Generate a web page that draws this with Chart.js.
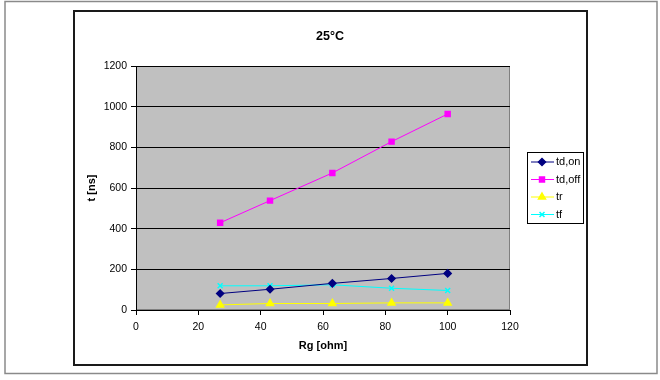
<!DOCTYPE html>
<html>
<head>
<meta charset="utf-8">
<script src="https://cdn.jsdelivr.net/npm/chart.js@4"></script>
<style>
  html, body { margin: 0; padding: 0; background: #fff; }
  #wrap { width: 660px; height: 380px; position: relative; }
</style>
</head>
<body>
<div id="wrap"><canvas id="c" width="660" height="380"></canvas></div>
<script>
const rg = [27, 43, 63, 82, 100];
const tdOn = [81, 102, 131, 155, 180];
const tdOff = [429, 538, 674, 828, 964];
const tr = [25, 32, 32, 35, 35];
const tf = [119, 119, 124, 107, 96];
const seriesNames = ['td,on', 'td,off', 'tr', 'tf'];
const xTicks = [0, 20, 40, 60, 80, 100, 120];
const yTicks = [0, 200, 400, 600, 800, 1000, 1200];

const FONT = "'Liberation Sans', Arial, sans-serif";
const pts = arr => arr.map((v, i) => ({ x: rg[i], y: v }));

const frame = {
  id: 'frame',
  beforeDraw(chart) {
    const ctx = chart.ctx, a = chart.chartArea;
    ctx.save();
    ctx.fillStyle = '#fff';
    ctx.fillRect(0, 0, chart.width, chart.height);
    ctx.strokeStyle = '#8a8a8a';
    ctx.lineWidth = 1.5;
    ctx.strokeRect(5, 1.5, 652, 372);
    ctx.strokeStyle = '#1a1a1a';
    ctx.lineWidth = 2;
    ctx.strokeRect(74, 11, 513, 354);
    ctx.fillStyle = '#c0c0c0';
    ctx.fillRect(a.left, a.top, a.right - a.left, a.bottom - a.top);
    ctx.strokeStyle = '#808080';
    ctx.lineWidth = 1;
    ctx.strokeRect(a.left + 0.5, a.top + 0.5, a.right - a.left - 1, a.bottom - a.top - 1);
    ctx.restore();
  }
};

const legendBox = {
  id: 'legendBox',
  afterDraw(chart) {
    const ctx = chart.ctx;
    const x0 = 527, y0 = 152, w = 57, h = 72;
    ctx.save();
    ctx.fillStyle = '#fff';
    ctx.fillRect(x0, y0, w, h);
    ctx.strokeStyle = '#000';
    ctx.lineWidth = 1;
    ctx.strokeRect(x0 + 0.5, y0 + 0.5, w - 1, h - 1);
    ctx.font = '11px ' + FONT;
    ctx.textBaseline = 'middle';
    chart.data.datasets.forEach((ds, i) => {
      const y = y0 + 10 + i * 17.5;
      ctx.strokeStyle = ds.borderColor;
      ctx.lineWidth = 1;
      ctx.beginPath();
      ctx.moveTo(x0 + 4, y);
      ctx.lineTo(x0 + 27, y);
      ctx.stroke();
      ctx.fillStyle = ds.pointBackgroundColor;
      ctx.strokeStyle = ds.pointBorderColor;
      ctx.lineWidth = 1.5;
      Chart.helpers.drawPoint(ctx, {
        pointStyle: ds.pointStyle, radius: ds.pointRadius, rotation: 0, borderWidth: 1.5
      }, x0 + 15, y);
      ctx.fillStyle = '#000';
      ctx.fillText(ds.label, x0 + 29, y);
    });
    ctx.restore();
  }
};

function mk(label, data, color, style, r) {
  return {
    label, data: pts(data),
    borderColor: color, backgroundColor: color,
    pointBackgroundColor: color, pointBorderColor: color,
    pointStyle: style, pointRadius: r, pointBorderWidth: 1.5,
    borderWidth: 1, tension: 0, showLine: true
  };
}

new Chart(document.getElementById('c'), {
  type: 'line',
  data: {
    datasets: [
      mk(seriesNames[0], tdOn, '#000080', 'rectRot', 3.5),
      mk(seriesNames[1], tdOff, '#ff00ff', 'rect', 3.5),
      mk(seriesNames[2], tr, '#ffff00', 'triangle', 4),
      mk(seriesNames[3], tf, '#00ffff', 'crossRot', 3.5)
    ]
  },
  options: {
    responsive: false,
    animation: false,
    devicePixelRatio: 1,
    layout: { padding: 0 },
    plugins: {
      legend: { display: false },
      tooltip: { enabled: false },
      title: {
        display: true, text: '25°C', color: '#000',
        font: { family: FONT, size: 12.5, weight: 'bold' },
        padding: { top: 29, bottom: 22 }
      }
    },
    scales: {
      x: {
        type: 'linear', min: 0, max: 120,
        afterBuildTicks: s => { s.ticks = xTicks.map(v => ({ value: v })); },
        afterFit: s => { s.height = 70; },
        ticks: { color: '#000', font: { family: FONT, size: 10.5 }, padding: 6, maxRotation: 0,
                 callback: v => String(v) },
        grid: { drawOnChartArea: false, drawTicks: true, tickLength: 5, color: '#000' },
        border: { display: true, color: '#000', width: 1 },
        title: {
          display: true, text: 'Rg [ohm]', color: '#000',
          font: { family: FONT, size: 11, weight: 'bold' },
          padding: { top: 0, bottom: 27 }
        }
      },
      y: {
        type: 'linear', min: 0, max: 1200, position: 'left',
        afterBuildTicks: s => { s.ticks = yTicks.map(v => ({ value: v })); },
        afterFit: s => { s.width = 136; },
        ticks: { color: '#000', font: { family: FONT, size: 10.5 }, padding: 4,
                 callback: v => String(v) },
        grid: { drawOnChartArea: true, drawTicks: true, tickLength: 5, color: '#000', lineWidth: 1 },
        border: { display: true, color: '#000', width: 1 },
        title: {
          display: true, text: 't [ns]', color: '#000',
          font: { family: FONT, size: 11, weight: 'bold' },
          padding: { top: 85, bottom: 0 }
        }
      },
      y2: {
        type: 'linear', position: 'right', display: true,
        afterFit: s => { s.width = 150; },
        ticks: { display: false },
        grid: { display: false },
        border: { display: false }
      }
    }
  },
  plugins: [frame, legendBox]
});
</script>
</body>
</html>
